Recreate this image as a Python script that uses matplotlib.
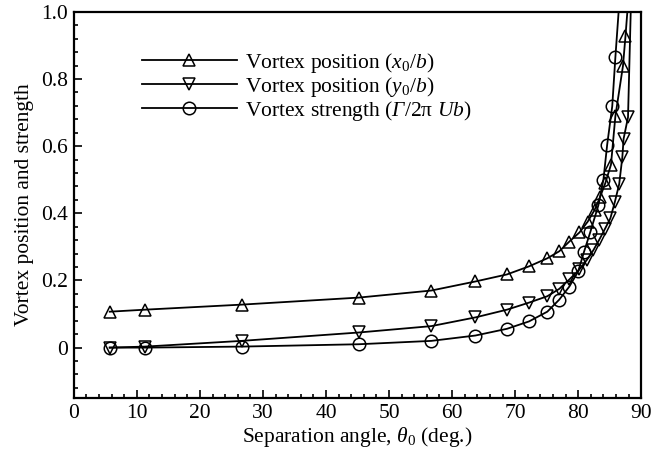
import matplotlib
matplotlib.use('Agg')
import matplotlib.pyplot as plt
from matplotlib.ticker import MultipleLocator

plt.rcParams['font.family'] = 'Liberation Serif'
plt.rcParams['mathtext.fontset'] = 'custom'
plt.rcParams['mathtext.rm'] = 'Liberation Serif'
plt.rcParams['mathtext.it'] = 'Liberation Serif:italic'
plt.rcParams['mathtext.sf'] = 'Liberation Serif:italic'  # used for the italic Gamma

# separation angle (deg.) and the three curves
# last point of each list only carries the line up past the frame
theta_x0 = [5.7, 11.3, 26.6, 45.2, 56.7, 63.7, 68.7, 72.2, 75.1, 77.0, 78.6, 80.2,
            81.5, 82.6, 83.5, 84.3, 85.2, 85.9, 87.1, 87.5, 88.0]
x0_b = [0.107, 0.113, 0.128, 0.149, 0.170, 0.197, 0.218, 0.242, 0.266, 0.287, 0.316, 0.343,
        0.375, 0.410, 0.450, 0.490, 0.545, 0.690, 0.839, 0.928, 1.05]

theta_y0 = [5.7, 11.3, 26.6, 45.2, 56.7, 63.7, 68.7, 72.2, 75.1, 77.0, 78.6, 80.2,
            81.4, 82.4, 83.3, 84.2, 85.1, 85.8, 86.5, 87.0, 87.2, 87.9, 88.4]
y0_b = [0.0, 0.003, 0.020, 0.045, 0.064, 0.090, 0.113, 0.134, 0.153, 0.175, 0.203, 0.233,
        0.262, 0.290, 0.320, 0.352, 0.385, 0.433, 0.487, 0.567, 0.622, 0.686, 1.05]

theta_g = [5.7, 11.3, 26.6, 45.2, 56.7, 63.7, 68.7, 72.2, 75.1, 77.0, 78.6, 80.0,
           80.9, 81.9, 83.2, 84.0, 84.6, 85.4, 85.9, 86.6]
gamma = [0.0, 0.0, 0.003, 0.010, 0.020, 0.036, 0.056, 0.078, 0.107, 0.143, 0.182, 0.227,
         0.284, 0.343, 0.424, 0.500, 0.605, 0.719, 0.866, 1.05]

labels = [r'Vortex position ($x_0/b$)',
          r'Vortex position ($y_0/b$)',
          r'Vortex strength ($\mathsf{Γ}$/2π $Ub$)']

fig = plt.figure(figsize=(6.53, 4.59), dpi=100)
ax = fig.add_axes([0.113, 0.133, 0.869, 0.841])

kw = dict(color='black', lw=1.3, fillstyle='none', markersize=9, mew=1.1)
ax.plot(theta_x0, x0_b, marker='^', markevery=slice(0, len(x0_b) - 1), label=labels[0], **kw)
ax.plot(theta_y0, y0_b, marker='v', markevery=slice(0, len(y0_b) - 1), label=labels[1], **kw)
ax.plot(theta_g, gamma, marker='o', markevery=slice(0, len(gamma) - 1), label=labels[2], **kw)

ax.set_xlim(0, 90)
ax.set_ylim(-0.15, 1.0)
ax.xaxis.set_major_locator(MultipleLocator(10))
ax.xaxis.set_minor_locator(MultipleLocator(2))
ax.yaxis.set_minor_locator(MultipleLocator(0.04))
ax.set_yticks([0, 0.2, 0.4, 0.6, 0.8, 1.0])
ax.set_yticklabels(['0', '0.2', '0.4', '0.6', '0.8', '1.0'])
ax.tick_params(which='both', direction='in', top=False, right=False, labelsize=15.5, width=1.2)
ax.tick_params(which='major', length=6, pad=4)
ax.tick_params(which='minor', length=3)
for s in ax.spines.values():
    s.set_linewidth(1.6)

ax.set_xlabel(r'Separation angle, $\theta_0$ (deg.)', fontsize=15.5, labelpad=2)
ax.set_ylabel('Vortex position and strength', fontsize=15.5, labelpad=5)

ax.legend(loc='upper left', bbox_to_anchor=(0.12, 0.9), frameon=False, fontsize=15.5,
          handlelength=4.4, handletextpad=0.4, labelspacing=0.0,
          borderpad=0, borderaxespad=0)

fig.savefig('out.png', dpi=100)
